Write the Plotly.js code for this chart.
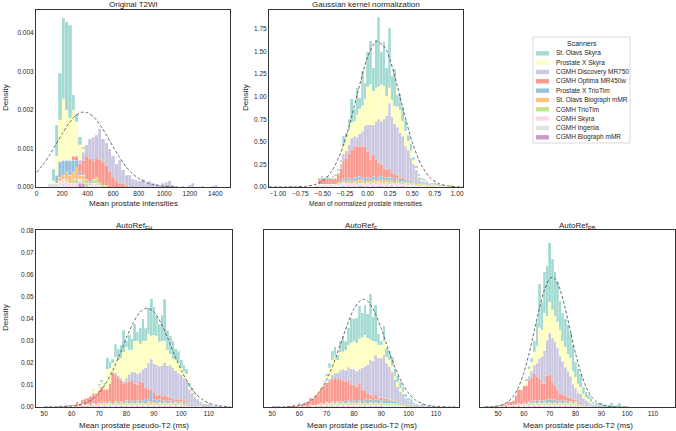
<!DOCTYPE html>
<html>
<head>
<meta charset="utf-8">
<title>Prostate intensity histograms</title>
<script src="https://cdn.plot.ly/plotly-3.0.1.min.js"></script>
<style>
  html, body { margin: 0; padding: 0; background: #ffffff; }
  #plot { width: 676px; height: 431px; }
</style>
</head>
<body>
<div id="plot"></div>
<script>
const scanners = [
  'St. Olavs Skyra', 'Prostate X Skyra', 'CGMH Discovery MR750', 'CGMH Optima MR450w',
  'Prostate X TrioTim', 'St. Olavs Biograph mMR', 'CGMH TrioTim', 'CGMH Skyra',
  'CGMH Ingenia', 'CGMH Biograph mMR'
];
const scannerColors = [
  '#8dd3c7', '#ffffb3', '#bebada', '#fb8072', '#80b1d3',
  '#fdb462', '#b3de69', '#fccde5', '#d9d9d9', '#bc80bd'
];

// Original T2WI, bins of 26
const t2wiBins = [105,131,157,183,209,235,261,287,313,339,365,391,417,443,469,495,521,547,573,599,
  625,651,677,703,729,755,781,807,833,859,885,911,937,963,989,1015,1041,1067,1093,1119,
  1145,1171,1197,1223,1249,1275,1301,1327,1353,1379,1405];
const t2wiDensity = [
  [0,.0003,.0008,.0012,.0021,.0023,.0024,.0004,.0002,.0002,.00005],
  [0,.00006,.0005,.0011,.0016,.0013,.0011,.0012,.0009,.0004,.0001],
  [0,0,0,0,0,0,0,0,0,.0001,.0002,.0003,.0005,.0006,.0006,.0008,.0006,.0006,.0006,.00055,
   .00045,.0006,.00037,.00025,.0003,.0002,.00018,.00015,.0002,.0001,.00015,.0001,.00008,.00005,.0001,.00012,.00016,.00004,.00003,0,
   .00003,0,.00004,.0001,0,0,.00003,0,0,.00003,.00005],
  [0,0,0,0,0,0,0,.0001,.0001,.0002,.0004,.0006,.0006,.0005,.0005,.0006,.0006,.0005,.0004,.00025,.00015,.0001,.00008,.00005],
  [0,0,.0002,.0004,.0004,.0003,.0004,.0003,.0002,.0001,0,0,.00005],
  [0,0,0,.0001,.0001,.0002,.0002,.0002,.0003,.0001,.0001,.0001,0,0,.00005],
  [0,0,0,0,0,.00005,0,.0001,.0001,0,.0001,.0001,.00005,.0001,.0001,.00007,.00005,.00005],
  [0,0,0,.0001,.0001,.0001,.0001,.0001,.0001,.0001,0,0,.00005,.0001,.0001,.00005],
  [.0001,.0001,.0001,.00005,.0001,.00005],
  [0,0,0,0,0,0,0,0,0,.0001,.0001]
];
const t2wiFitX = [0,50,100,150,200,250,300,350,400,450,500,550,600,650,700,750,800,850,900,950,1000,1100];
const t2wiFitY = [.00038,.00058,.00082,.0011,.00138,.00164,.00184,.00194,.00193,.00181,.0016,.00133,.00104,.00077,
  .00053,.00035,.00022,.00013,.00007,.00004,.00002,0];

// Gaussian kernel normalization, bins of 0.03
const gkBins = [-0.957,-0.927,-0.897,-0.867,-0.837,-0.807,-0.777,-0.747,-0.717,-0.687,-0.657,-0.627,-0.597,-0.567,
  -0.537,-0.507,-0.477,-0.447,-0.417,-0.387,-0.357,-0.327,-0.297,-0.267,-0.237,-0.207,-0.177,-0.147,-0.117,-0.087,
  -0.057,-0.027,0.003,0.033,0.063,0.093,0.123,0.153,0.183,0.213,0.243,0.273,0.303,0.333,0.363,0.393,0.423,0.453,
  0.483,0.513,0.543,0.573,0.603,0.633,0.663,0.693,0.723,0.753,0.783,0.813,0.843,0.873,0.903,0.933,0.963];
const gkDensity = [
  [0,0,0,0,0,0,0,0,0,0,0,0,0,0,
   .01,.03,.01,.03,.01,.02,.02,.02,.02,.11,.05,.12,.27,.13,.3,.13,.38,.17,.38,.48,.26,.53,.77,.36,.49,.31,
   .66,.27,.41,.13,.18,.16,.12,.07,.08,.03,.03,.02,.02,.015,.01,.01,.01],
  [0,0,0,0,0,0,0,0,0,0,0,0,0,0,0,0,0,0,0,
   .01,.02,.02,.02,.09,.15,.16,.17,.17,.25,.27,.28,.3,.42,.45,.37,.38,.36,.4,.37,.22,
   .17,.18,.2,.23,.25,.17,.17,.1,.08,.05,.02,.02,.01,.01,.01,.01],
  [0,0,0,0,0,0,0,0,0,0,0,0,0,0,0,0,0,0,0,0,
   .01,.02,.06,.08,.08,.1,.13,.11,.1,.14,.17,.23,.3,.38,.33,.42,.48,.48,.55,.6,
   .73,.62,.56,.53,.49,.45,.36,.32,.25,.19,.13,.06,.03,.02,.02,.01,.01],
  [0,0,0,0,0,0,0,0,0,0,0,0,0,0,
   .06,.06,.06,.06,.06,.06,.06,.09,.13,.2,.23,.26,.32,.34,.35,.33,.35,.35,.28,.22,
   .24,.2,.16,.13,.1,.08,.09,.05,.05,.03,.02,.02,.01,.01,.01,.01],
  [0,0,0,0,0,0,0,0,0,0,0,0,0,0,0,0,0,0,0,0,0,
   .01,.02,.02,.03,.03,.02,.04,.03,.03,.02,.04,.03,.02,.04,.03,.03,.04,.02,.03,.04,
   .03,.03,.02,.03,.03,.02,.02,.02,.01,.02,.01,.01,.01,.01,.01,0,.01,.01],
  [0,0,0,0,0,0,0,0,0,0,0,0,0,0,0,0,0,0,0,0,0,
   .01,.01,.02,.02,.02,.03,.02,.02,.03,.02,.02,.03,.02,.02,.02,.02,.02,.03,.02,.02,
   .02,.02,.02,.02,.01,.02,.01,.01,.01,.01,.01,.01,.01,.01,.01,.01,.01,0,.01],
  [0,0,0,.02,0,0,0,.02,0,0,0,0,0,.02,0,0,0,0,0,0,0,
   .01,.01,.01,.01,.02,.01,.01,.02,.02,.02,.01,.01,.02,.02,.02,.01,.02,.02,.02,.02,
   .02,.01,.02,.01,.02,.01,.02,.01,.01,.01,.01,.01,.01,.01,.01,.01,.01,.01,.01,.01,0,0,.02],
  [0,0,0,0,0,0,.02,0,0,0,0,0,0,0,.02,.02,.02,.02,.02,.02,.02,.01,
   .02,.02,.02,.02,.02,.02,.02,.02,.02,.02,.02,.02,.02,.02,.03,.02,.02,.02,.02,.02,.02,.02,.02,
   .01,.02,.01,.01,.01,.01,.01,.01,.01,0,0,0,.01,.01,0,.01,.01,0,0,.01],
  [0,0,0,0,.02,0,0,0,.01,0,0,0,0,0,
   .01,.01,.01,.01,.01,.01,.01,.01,.01,.01,.01,.01,.01,.01,.01,.01,.01,.01,
   .01,.01,.01,.01,.01,.01,.01,.01,.01,.01,.01,.01,.01,.01,.01,.01,.01,.01,.005],
  [0,0,0,0,0,0,0,0,0,0,0,0,0,0,0,0,0,0,0,0,0,0,0,
   .01,0,.01,0,.01,0,.01,.01,0,.01,0,.01,0,.01,.01,0,.01,0,.01,0,.01,0,.01,0,.005]
];
const gkFitX = [-1.1,-1.0,-0.9,-0.8,-0.7,-0.6,-0.5,-0.4,-0.3,-0.2,-0.1,0,0.1,0.2,0.3,0.4,0.5,0.6,0.7,0.8,0.9,1.0,1.06];
const gkFitY = [0,0,.0003,.0015,.0063,.022,.067,.174,.377,.695,1.086,1.438,1.615,1.537,1.24,.848,.491,.242,.1,.0355,.0107,.003,.001];

// AutoRef FH, bins of 1 ms
const fhBins = [52,53,54,55,56,57,58,59,60,61,62,63,64,65,66,67,68,69,70,71,72,73,74,75,76,77,78,79,80,81,
  82,83,84,85,86,87,88,89,90,91,92,93,94,95,96,97,98,99,100,101,102,103,104,105,106,107,108,109,110,111,112,113,114];
const fhDensity = [
  [0,0,0,0,0,0,0,0,0,0,0,0,0,0,0,0,
   .0005,0,.001,.001,.001,.0052,.003,.002,.006,.005,.006,.01,.003,.007,.005,.008,.004,.007,.01,.006,
   .012,.017,.013,.009,.008,.012,.019,.009,.008,.008,.005,.005,.004,.003,.0025,.002,.001,.001,.0002,0,0,0,.0005],
  [0,0,0,0,0,0,0,0,0,0,0,0,0,0,0,
   .001,.0015,.001,.002,.002,.002,.0091,.007,.004,.007,.007,.009,.013,.014,.011,.01,.014,.015,.013,.013,
   .012,.013,.0105,.013,.013,.011,.011,.01,.007,.005,.004,.005,.005,.003,.003,.003,.001,.001,.001,.0005,0,.0004],
  [0,0,0,0,0,0,0,0,0,0,0,0,0,0,0,0,0,0,0,0,0,0,0,0,
   .001,.001,.001,.001,.002,.003,.004,.005,.005,.004,.006,.009,.012,.0135,.013,.014,.013,.014,.015,.014,
   .015,.014,.013,.012,.011,.01,.01,.007,.005,.0035,.003,.002,.0015,.0015,.001,.001,.0005,.0005,.0005],
  [0,0,0,0,0,0,
   .0005,.0005,.0005,.0005,.0015,.001,.002,.003,.003,.004,.0045,.0045,.0055,.007,.006,.0057,.008,.014,.012,.011,
   .0095,.0085,.008,.009,.009,.008,.007,.009,.008,.0055,.004,.001,.003,.0025,.002,.002,.002,.002,.001,.001,
   .001,.001,.001,.001,0,0,.0005],
  [0,0,0,0,0,0,0,0,0,0,0,0,0,0,0,0,0,0,
   .0005,.0005,.0005,.0005,.0005,.0005,.0005,.0005,.0005,.0005,
   .001,.001,.001,.001,.001,.001,.001,.0015,.0015,.005,.0015,.001,.0015,.001,.001,.001,.001,.001,
   .0005,.0005,.0005,.0005,.0005,.0005,.0005,.0005],
  [0,0,0,0,0,0,0,0,0,0,0,0,0,0,0,
   .0005,.0005,.0005,.0005,.0005,.0005,.0005,.0005,.0005,.0005,.0005,.0005,.0005,.0005,.0005,.0005,.0005,.0005,.0005,.0005,.0005,
   .001,.001,.0005,.0005,.0005,.0005,.0005,.0005,.0005,.0005,.0005,.0005,.0005,.0005,.0005],
  [0,0,0,0,0,0,0,0,0,0,0,0,0,0,0,0,0,0,0,
   .0005,0,.0005,.0005,0,
   .0005,.0005,.0005,.0005,.0005,.0005,.0005,.0005,.0005,.0005,.0005,.0005,.0005,.0005,
   .0005,.0005,.0005,.0005,.0005,.0005,.0005,.0005,.0005,.0005,.0005,.0005,.0005],
  [0,0,0,.0005,.0005,0,0,0,.0005,0,.0005,0,.0005,.0005,.0005,0,
   .0005,.0005,.0005,.0005,.0005,.0005,.0005,.0005,.0005,.0005,.0005,.0005,.0005,.0005,.0005,.0005,.0005,.0005,.0005,.0005,
   .0005,.0005,.0005,.0005,.0005,.0005,.0005,.0005,.0005,.0005,.0005,.0005,.0005,.0005,.0005,.0005,.0005,.0005,.0005,.0005],
  [.0005,0,.0005,0,.0005,.0005,.0005,.0005,0,.0005,0,.0005,
   .0005,.0005,.0005,.0005,.0005,.0005,
   .0003,.0003,.0003,.0003,.0003,.0003,.0003,.0003,.0003,.0003,.0003,.0003,.0003,.0003,.0003,.0003,
   .0003,.0003,.0003,.0003,.0003,.0003,.0003,.0003,.0003,.0003,.0003,.0003,.0003,.0003,.0003,
   0,0,0,0,0,0,0,0,0,0,0,0,.0005],
  [0,0,0,0,0,0,0,0,0,0,
   .0003,0,.0003,0,.0003,0,.0003,0,.0003,0,.0003,0,.0003,0,.0003,0,.0003,0,.0003,0,
   .0003,0,.0003,0,.0003,0,.0003,0,.0003,0,.0003,0,.0003,0,.0003,0,.0003,0,.0003]
];
const fhFitX = [50,55,60,62.5,65,67.5,70,72.5,75,77.5,80,82.5,85,87.5,90,92.5,95,97.5,100,102.5,105,107.5,110,112.5,115,118];
const fhFitY = [0,.00006,.00037,.00085,.0018,.00354,.0064,.0108,.0167,.0238,.0315,.0384,.0433,.045,
  .0433,.0384,.0315,.0238,.0167,.0108,.0064,.00354,.0018,.00085,.00037,.0001];

// AutoRef F
const fBins = [52,53,54,55,56,57,58,59,60,61,62,63,64,65,66,67,68,69,70,71,72,73,74,75,76,77,78,79,80,81,
  82,83,84,85,86,87,88,89,90,91,92,93,94,95,96,97,98,99,100,101,102,103,104,105,106,107,108,109,110,111,112,113];
const fDensity = [
  [0,0,0,0,0,0,0,0,.0005,0,0,0,0,0,0,0,0,
   .0005,.001,.002,.004,.004,.002,.005,.007,.004,.008,.011,.01,.011,.015,.011,.014,.011,.021,.011,.017,
   .005,.002,.007,.004,.004,.004,.003,.003,.003,.002,.0015,.001,.001,.001,.0005,.0005,.0005,0,0,.0005],
  [0,0,0,0,0,0,0,0,0,0,0,0,0,0,
   .001,.001,.0005,.0015,.003,.005,.007,.008,.006,.008,.008,.009,.01,.012,.013,.013,.014,.014,.014,.012,
   .009,.009,.006,.006,.006,.006,.003,.003,.003,.002,.002,.0015,.001,.0005],
  [0,0,0,0,0,0,0,0,0,0,0,0,0,0,0,0,0,0,0,
   .001,.002,.002,.003,.004,.005,.005,.006,.007,.007,.007,.006,.01,.011,.013,.016,.016,.018,.018,.018,
   .02,.016,.015,.013,.0095,.007,.005,.004,.0025,.002,.002,.001,.001,.0005,.001,.0005,.0005,.0005,.0005,0,.0005],
  [0,0,0,0,0,
   .0005,.0005,.0005,.001,.001,.0015,.0025,.003,.003,.004,.0055,.007,.0085,.009,.01,.01,.011,.01,.0105,.0095,
   .009,.009,.007,.007,.007,.008,.005,.004,.003,.002,.002,.002,.001,.001,.001,.001,.0005,.0005,.0005],
  [0,0,0,0,0,0,0,0,0,0,0,0,0,0,0,0,0,0,0,0,
   .0005,.0005,.0005,.0005,.0005,.001,.001,.001,.001,.0005,.001,.001,.001,.0015,.0015,.001,.0015,.0015,
   .001,.001,.001,.001,.0005,.0005,.0005,.0005,.0005,.0005,.0005],
  [0,0,0,0,0,0,0,0,0,0,0,0,0,0,0,
   .0005,.0005,.0005,.0005,.0005,.0005,.0005,.0005,.0005,.0005,.0005,.0005,.001,.0005,.0005,.0005,.0005,.001,
   .0005,.0005,.0005,.0005,.0005,.0005,.0005,.0005,.0005,.0005,.0005,.0005,.0005,.0005],
  [0,0,0,0,0,0,0,0,0,0,0,0,0,0,0,0,0,0,
   .0005,.0005,.0005,.0005,.0005,.0005,.0005,.0005,.0005,.0005,.0005,.0005,.0005,.0005,.0005,.0005,
   .0005,.0005,.0005,.0005,.0005,.0005,.0005,.0005,.0005,.0005,.0005,.0005,.0005,.0005,.0005,.0005],
  [0,0,0,0,0,0,0,0,.0005,0,.0005,0,
   .0005,.0005,.0005,.0005,.0005,.0005,.0005,.0005,.0005,.0005,.0005,.0005,.0005,.0005,.0005,.0005,.0005,.0005,
   .0005,.0005,.0005,.0005,.0005,.0005,.0005,.0005,.0005,.0005,.0005,.0005,.0005,.0005,.0005,.0005,.0005,.0005],
  [.0005,0,.0005,0,.0005,0,.0005,0,0,0,0,0,
   .0003,.0003,.0003,.0003,.0003,.0003,.0003,.0003,.0003,.0003,.0003,.0003,.0003,.0003,.0003,.0003,.0003,
   .0003,.0003,.0003,.0003,.0003,.0003,.0003,.0003,.0003,.0003,.0003,.0003,.0003,.0003,.0003,.0003,
   0,0,0,0,0,0,0,0,0,.0005,0,0,0,0,0,0,.0005],
  [0,0,0,0,0,0,0,0,0,0,0,0,
   .0003,0,.0003,0,.0003,0,.0003,0,.0003,0,.0003,0,.0003,0,.0003,0,.0003,0,.0003,0,.0003,0,.0003,0,.0003,0,.0003]
];
const fFitX = [50,55,60,62.5,65,67.5,70,72.5,75,77.5,80,82.5,83.5,85,87.5,90,92.5,95,97.5,100,102.5,105,107.5,110,115,118];
const fFitY = [.00001,.0001,.00076,.00175,.0037,.0071,.0124,.0197,.0284,.0373,.0447,.0486,.049,.0482,.0434,.0356,
  .0266,.0181,.0112,.0063,.0032,.0015,.00063,.00025,.00003,0];

// AutoRef PB
const pbBins = [45,46,47,48,49,50,51,52,53,54,55,56,57,58,59,60,61,62,63,64,65,66,67,68,69,70,71,72,73,74,
  75,76,77,78,79,80,81,82,83,84,85,86,87,88,89,90,91,92,93,94,95,96,97,98,99,100];
const pbDensity = [
  [0,0,0,0,0,.0005,0,0,0,0,0,0,0,0,0,0,
   .001,.0015,.002,.005,.011,.02,.013,.019,.023,.027,.023,.02,.0185,.013,.013,.013,.013,.012,.012,.007,
   .007,.006,.003,.0025,.002,.0015,.001,.001,.001,.002,.0005,.001,.0005,.002,.0005,.001,.002,.0005,0,.0005],
  [0,0,0,0,0,0,0,0,0,0,0,0,0,
   .0005,.001,.001,.002,.003,.004,.006,.008,.014,.012,.017,.011,.014,.013,.012,.012,.012,.009,.009,.008,.008,
   .006,.005,.004,.003,.002,.0015,.001,.001,.0005],
  [0,0,0,0,0,0,0,0,0,0,0,0,0,0,0,0,0,
   .002,.003,.004,.006,.009,.012,.015,.016,.019,.02,.02,.019,.017,.015,.013,.012,.01,.007,.005,.004,
   .0035,.0025,.002,.0015,.001,.001,.001,.0005,0,.0005,0,.0005],
  [0,0,0,0,
   .0005,0,.0005,.001,.001,.0015,.0015,.002,.004,.0065,.0065,.0075,.008,.0095,.0105,.012,.011,.01,.008,.0075,
   .011,.011,.008,.006,.005,.003,.003,.002,.0015,.0015,.001,.001,.0005,.0005],
  [0,0,0,0,0,0,0,0,0,0,0,0,0,0,0,
   .0005,.0005,.0005,.001,.001,.001,.001,.001,.001,.0015,.0015,.0015,.0015,.001,.001,.001,.001,.001,
   .0005,.0005,.0005,.0005,.0005,.0005,.0005,.0005],
  [0,0,0,0,0,0,0,0,0,0,0,0,
   .0005,.0005,.0005,.0005,.0005,.0005,.0005,.0005,.0005,.0005,.0005,.0005,.0005,
   .0005,.0005,.0005,.0005,.0005,.0005,.0005,.0005,.0005,.0005,.0005,.0005,.0005],
  [0,0,0,0,0,0,0,0,0,0,0,0,0,0,0,0,0,
   .0005,.0005,.0005,.0005,.0005,.0005,.0005,.0005,.0005,.0005,.0005,
   .0005,.0005,.0005,.0005,.0005,.0005,.0005,.0005,.0005,.0005,.0005],
  [0,0,0,0,0,0,0,.0005,0,.0005,.0005,
   .0005,.0005,.0005,.0005,.0005,.0005,.0005,.0005,.0005,.0005,.0005,.0005,.0005,.0005,.0005,.0005,
   .0005,.0005,.0005,.0005,.0005,.0005,.0005,.0005,.0005,.0005,.0005,.0005,.0005,.0005,.0005],
  [.0005,0,.0005,.0005,0,.0005,.0005,0,0,
   .0003,.0003,.0003,.0003,.0003,.0003,.0003,.0003,.0003,.0003,.0003,.0003,.0003,.0003,
   .0003,.0003,.0003,.0003,.0003,.0003,.0003,.0003,.0003,.0003,.0003,.0003,.0003],
  [0,0,0,0,0,0,0,0,0,0,0,
   .0003,0,.0003,0,.0003,0,.0003,0,.0003,0,.0003,0,.0003,0,.0003,0,.0003,0,.0003,0,.0003,0,.0003,0,.0003]
];
const pbFitX = [45,48,50,52,54,56,58,60,62,64,66,68,70,71,72,74,76,78,80,82,84,86,88,90,92,94,97,100];
const pbFitY = [.00004,.00018,.00047,.00114,.0025,.005,.0093,.0157,.0243,.0345,.0449,.0535,.0584,.059,.0584,.0535,
  .0449,.0345,.0243,.0157,.0093,.005,.0025,.00114,.00047,.00018,.00003,0];

const W = 676, H = 431;
const px = x => x / W;
const py = y => 1 - y / H;
const textColor = '#262626';

function histTraces(bins, density, binWidth, id) {
  const traces = [];
  // seaborn stacks the first scanner on top, so add from the last one up
  for (let k = scanners.length - 1; k >= 0; k--) {
    traces.push({
      type: 'bar',
      x: bins,
      y: density[k],
      width: binWidth,
      name: scanners[k],
      xaxis: 'x' + id,
      yaxis: 'y' + id,
      marker: {
        color: scannerColors[k],
        opacity: 0.8,
        line: { color: 'rgba(255,255,255,0.55)', width: 0.4 }
      },
      hoverinfo: 'skip'
    });
  }
  return traces;
}

function fitTrace(xs, ys, id) {
  return {
    type: 'scatter',
    mode: 'lines',
    x: xs,
    y: ys,
    xaxis: 'x' + id,
    yaxis: 'y' + id,
    line: { color: '#5a5a5a', width: 0.9, dash: '3px,2px', shape: 'spline', smoothing: 0.7 },
    hoverinfo: 'skip'
  };
}

const data = [].concat(
  histTraces(t2wiBins, t2wiDensity, 26, ''),
  [fitTrace(t2wiFitX, t2wiFitY, '')],
  histTraces(gkBins, gkDensity, 0.03, '2'),
  [fitTrace(gkFitX, gkFitY, '2')],
  histTraces(fhBins, fhDensity, 1, '3'),
  [fitTrace(fhFitX, fhFitY, '3')],
  histTraces(fBins, fDensity, 1, '4'),
  [fitTrace(fFitX, fFitY, '4')],
  histTraces(pbBins, pbDensity, 1, '5'),
  [fitTrace(pbFitX, pbFitY, '5')]
);

const axisBase = {
  showline: true,
  mirror: true,
  linecolor: '#333333',
  linewidth: 1,
  showgrid: false,
  zeroline: false,
  ticks: '',
  tickfont: { size: 6.5, color: textColor },
  fixedrange: true
};
const topRow = [py(187), py(10)];
const bottomRow = [py(407), py(230)];

function label(text, x, y, size, extra) {
  return Object.assign({
    text: text,
    x: px(x),
    y: py(y),
    xref: 'paper',
    yref: 'paper',
    showarrow: false,
    xanchor: 'center',
    yanchor: 'middle',
    font: { size: size, color: textColor }
  }, extra || {});
}

const annotations = [
  label('Original T2WI', 133, 4.5, 8),
  label('Gaussian kernel normalization', 366, 4.5, 8),
  label('AutoRef<sub>FH</sub>', 134, 225.5, 8),
  label('AutoRef<sub>F</sub>', 361.5, 225.5, 8),
  label('AutoRef<sub>PB</sub>', 577.5, 225.5, 8),
  label('Mean prostate intensities', 133, 204, 8),
  label('Mean of normalized prostate intensities', 366, 204, 6.5),
  label('Mean prostate pseudo-T2 (ms)', 134, 425.5, 8),
  label('Mean prostate pseudo-T2 (ms)', 361.5, 425.5, 8),
  label('Mean prostate pseudo-T2 (ms)', 577.5, 425.5, 8),
  label('Density', 5, 98, 8, { textangle: -90 }),
  label('Density', 245, 98, 8, { textangle: -90 }),
  label('Density', 5, 318, 8, { textangle: -90 }),
  label('Scanners', 581.5, 43.5, 7)
];

const shapes = [{
  type: 'rect', xref: 'paper', yref: 'paper',
  x0: px(533), x1: px(630), y0: py(143), y1: py(37),
  line: { color: '#d0d0d0', width: 0.8 },
  fillcolor: '#ffffff'
}];
scanners.forEach((name, k) => {
  const yc = 53.3 + 9.33 * k;
  shapes.push({
    type: 'rect', xref: 'paper', yref: 'paper',
    x0: px(536), x1: px(549), y0: py(yc + 2.2), y1: py(yc - 2.2),
    line: { width: 0 },
    fillcolor: scannerColors[k],
    opacity: 0.8
  });
  annotations.push(label(name, 554, yc, 6.5, { xanchor: 'left' }));
});

const layout = {
  width: W,
  height: H,
  margin: { l: 0, r: 0, t: 0, b: 0 },
  paper_bgcolor: '#ffffff',
  plot_bgcolor: '#ffffff',
  font: { family: 'Liberation Sans, Arial, sans-serif', size: 7, color: textColor },
  showlegend: false,
  barmode: 'stack',
  xaxis: Object.assign({}, axisBase, { domain: [px(36), px(230)], range: [-5, 1515], dtick: 200, tick0: 0, anchor: 'y' }),
  yaxis: Object.assign({}, axisBase, { domain: topRow, range: [0, 0.0046], dtick: 0.001, tickformat: '.3f', anchor: 'x' }),
  xaxis2: Object.assign({}, axisBase, { domain: [px(269), px(463)], range: [-1.1, 1.065], dtick: 0.25, tick0: 0, tickformat: '.2f', anchor: 'y2' }),
  yaxis2: Object.assign({}, axisBase, { domain: topRow, range: [0, 1.96], dtick: 0.25, tickformat: '.2f', anchor: 'x2' }),
  xaxis3: Object.assign({}, axisBase, { domain: [px(36), px(232)], range: [47, 118.5], dtick: 10, tick0: 0, anchor: 'y3' }),
  yaxis3: Object.assign({}, axisBase, { domain: bottomRow, range: [0, 0.0805], dtick: 0.01, tickformat: '.2f', anchor: 'x3' }),
  xaxis4: Object.assign({}, axisBase, { domain: [px(264), px(459)], range: [47, 118.5], dtick: 10, tick0: 0, anchor: 'y4' }),
  yaxis4: Object.assign({}, axisBase, { domain: bottomRow, range: [0, 0.0805], showticklabels: false, anchor: 'x4' }),
  xaxis5: Object.assign({}, axisBase, { domain: [px(480), px(675)], range: [43, 118.5], dtick: 10, tick0: 0, anchor: 'y5' }),
  yaxis5: Object.assign({}, axisBase, { domain: bottomRow, range: [0, 0.0805], showticklabels: false, anchor: 'x5' }),
  annotations: annotations,
  shapes: shapes
};

Plotly.newPlot('plot', data, layout, { staticPlot: true, displayModeBar: false });
</script>
</body>
</html>
